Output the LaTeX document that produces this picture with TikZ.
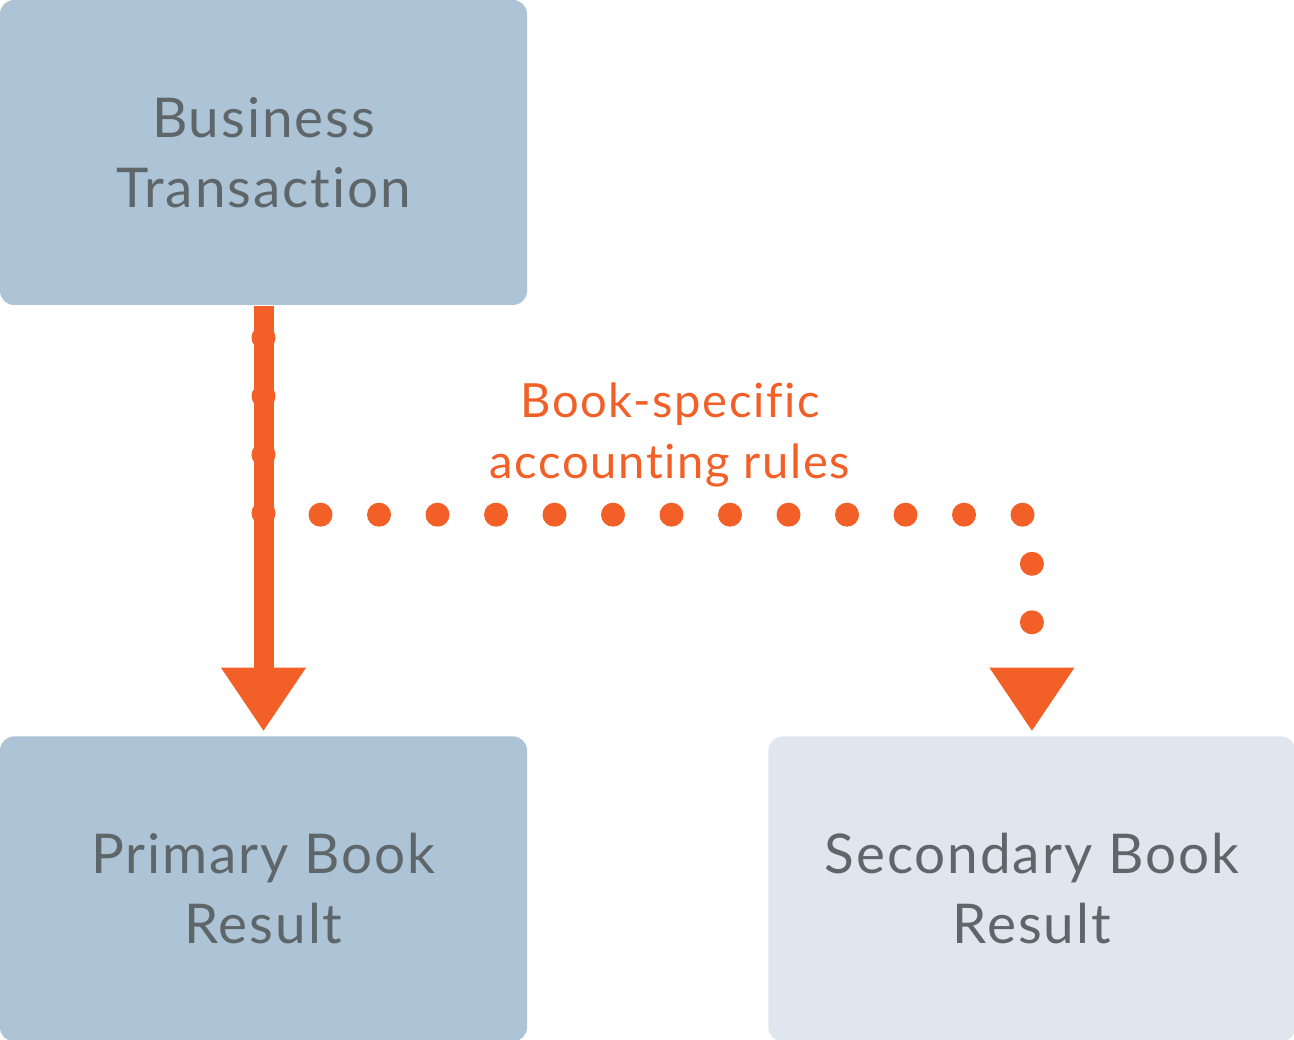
\documentclass[tikz,border=0pt]{standalone}
\usepackage{fontspec}
\setmainfont{Lato}[Ligatures=NoCommon, LetterSpace=3.5]
\usepackage{xcolor}
\usepackage{tikz}
\usetikzlibrary{
  positioning,
  arrows.meta
}
\definecolor{boxblue}{HTML}{ADC4D7}
\definecolor{boxpale}{HTML}{DFE6EE}
\definecolor{txtgrey}{HTML}{5E6669}
\definecolor{ruleorange}{HTML}{F26027}

\begin{document}
\begin{tikzpicture}[
  bookbox/.style={rounded corners=0.14cm, minimum width=5.27cm, minimum height=3.05cm,
    inner sep=0pt, align=center, text=txtgrey, font=\fontsize{15.6}{19.9}\selectfont},
  bigtip/.style={-{Triangle[width=0.85cm, length=0.63cm, line width=0pt]}},
  mainflow/.style={bigtip, ruleorange, line width=0.2cm, shorten >=0.05cm},
  ruleflow/.style={bigtip, ruleorange, line width=0.24cm, line cap=round,
    dash pattern=on 0pt off 0.585cm, shorten >=0.05cm}
]
  \useasboundingbox (0,0) rectangle (12.94,10.40);

  % 三个方框
  \node[bookbox, fill=boxblue] (trans) at (2.635,8.875) {Business\\Transaction};
  \node[bookbox, fill=boxblue, below=4.30cm of trans] (primary) {Primary Book\\Result};
  \node[bookbox, fill=boxpale, right=2.40cm of primary] (secondary) {Secondary Book\\Result};

  % 点线：分支到第二账簿
  \coordinate (tap) at ([yshift=-0.32cm]trans.south);
  \coordinate (bend) at ([yshift=2.21cm]secondary.north);
  \draw[ruleflow] (tap) -- (tap |- bend) -- (bend) -- (secondary.north);

  % 主箭头
  \draw[mainflow] (trans.south) -- (primary.north);

  % 规则标注
  \node[ruleorange, align=center, inner sep=0pt, font=\fontsize{13.4}{17.4}\selectfont]
    (rules) at (6.70,6.05) {Book-specific\\accounting rules};
\end{tikzpicture}
\end{document}
